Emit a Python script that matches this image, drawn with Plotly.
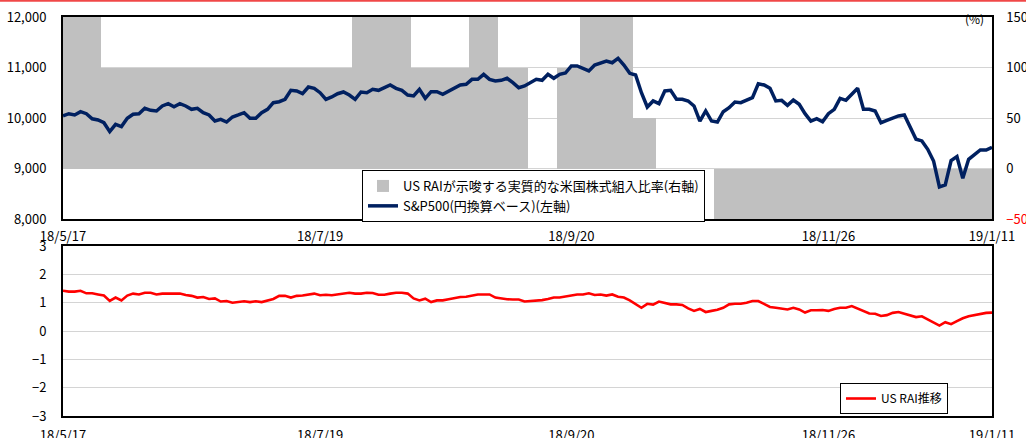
import plotly.graph_objects as go

# ---------------- data ----------------
# S&P500 (JPY basis), one value per business day, 18/5/17 .. 19/1/11
sp500 = [
    10040, 10085, 10060, 10125, 10085, 9985, 9960, 9907, 9730, 9875,
    9830, 9994, 10073, 10085, 10192, 10152, 10139, 10238, 10283, 10224,
    10283, 10238, 10172, 10192, 10105, 10060, 9940, 9974, 9921, 10020,
    10060, 10105, 9994, 9994, 10105, 10172, 10303, 10323, 10370, 10548,
    10535, 10481, 10614, 10588, 10501, 10370, 10416, 10481, 10515, 10455,
    10370, 10515, 10501, 10568, 10548, 10600, 10653, 10588, 10548, 10455,
    10436, 10568, 10390, 10521, 10521, 10469, 10535, 10588, 10653, 10667,
    10766, 10766, 10865, 10766, 10733, 10746, 10786, 10700, 10600, 10634,
    10700, 10766, 10746, 10865, 10786, 10865, 10891, 11030, 11030, 10984,
    10931, 11050, 11095, 11129, 11095, 11182, 11050, 10885, 10851, 10501,
    10218, 10337, 10283, 10535, 10548, 10370, 10370, 10337, 10238, 9940,
    10139, 9940, 9921, 10125, 10204, 10317, 10303, 10350, 10402, 10679,
    10653, 10588, 10337, 10350, 10251, 10356, 10271, 10085, 9940, 9986,
    9927, 10085, 10172, 10390, 10350, 10469, 10588, 10172, 10172, 10139,
    9907, 9954, 9994, 10040, 10060, 9822, 9580, 9546, 9380, 9149,
    8634, 8673, 9155, 9234, 8806, 9182, 9267, 9367, 9367, 9420,
]

# US RAI, same business days
us_rai = [
    1.42, 1.39, 1.39, 1.42, 1.33, 1.33, 1.29, 1.25, 1.06, 1.18,
    1.08, 1.25, 1.32, 1.29, 1.35, 1.35, 1.29, 1.32, 1.32, 1.32,
    1.32, 1.27, 1.24, 1.18, 1.20, 1.13, 1.15, 1.04, 1.06, 1.00,
    1.02, 1.05, 1.02, 1.05, 1.02, 1.08, 1.13, 1.24, 1.24, 1.18,
    1.24, 1.25, 1.28, 1.32, 1.26, 1.28, 1.26, 1.29, 1.32, 1.35,
    1.32, 1.32, 1.35, 1.34, 1.28, 1.28, 1.32, 1.35, 1.35, 1.32,
    1.15, 1.08, 1.14, 1.02, 1.08, 1.08, 1.12, 1.16, 1.20, 1.21,
    1.26, 1.29, 1.29, 1.29, 1.18, 1.14, 1.12, 1.11, 1.11, 1.04,
    1.06, 1.06, 1.09, 1.13, 1.18, 1.18, 1.22, 1.27, 1.29, 1.29,
    1.33, 1.27, 1.29, 1.25, 1.29, 1.21, 1.18, 1.08, 0.94, 0.82,
    0.96, 0.93, 1.04, 0.99, 0.94, 0.94, 0.92, 0.80, 0.71, 0.78,
    0.67, 0.71, 0.75, 0.82, 0.94, 0.96, 0.96, 1.00, 1.06, 1.06,
    0.94, 0.85, 0.82, 0.80, 0.76, 0.82, 0.76, 0.65, 0.73, 0.73,
    0.74, 0.71, 0.78, 0.82, 0.82, 0.88, 0.79, 0.71, 0.62, 0.61,
    0.53, 0.56, 0.64, 0.67, 0.61, 0.54, 0.49, 0.52, 0.40, 0.29,
    0.19, 0.31, 0.24, 0.35, 0.45, 0.52, 0.56, 0.61, 0.64, 0.65,
]

# Effective US equity allocation suggested by US RAI (%), in runs of business days
alloc_first_day = [0, 7, 50, 60, 70, 75, 80, 85, 89, 98, 102, 112]
alloc_last_day = [6, 49, 59, 69, 74, 79, 84, 88, 97, 101, 111, 159]
alloc_value = [150, 100, 150, 100, 150, 100, 0, 100, 150, 50, 0, -50]

tick_days = [0, 44, 87, 131, 159]
tick_labels = ["18/5/17", "18/7/19", "18/9/20", "18/11/26", "19/1/11"]

alloc_ticks = [-50, 0, 50, 100, 150]
alloc_ticktext = ["<span style='color:#ff0000'>\u221250</span>", "0", "50", "100", "150"]

# ---------------- figure ----------------
FONT = "Noto Sans CJK JP"
days = list(range(len(sp500)))
days_rai = list(range(len(us_rai)))

bar_x = [(a + b) / 2 for a, b in zip(alloc_first_day, alloc_last_day)]
bar_w = [b - a + 1 for a, b in zip(alloc_first_day, alloc_last_day)]

fig = go.Figure()
fig.add_trace(go.Bar(
    x=bar_x, y=alloc_value, width=bar_w, base=0,
    marker=dict(color="#c0c0c0", line=dict(width=0)),
    name="US RAIが示唆する実質的な米国株式組入比率(右軸)",
    xaxis="x", yaxis="y", legend="legend", hoverinfo="skip",
))
fig.add_trace(go.Scatter(
    x=days, y=sp500, mode="lines",
    line=dict(color="#002060", width=3.5),
    name="S&P500(円換算ベース)(左軸)",
    xaxis="x", yaxis="y2", legend="legend",
))
fig.add_trace(go.Scatter(
    x=days_rai, y=us_rai, mode="lines",
    line=dict(color="#ff0000", width=2.6),
    name="US RAI推移",
    xaxis="x2", yaxis="y3", legend="legend2",
))

W, H = 1026, 438
L, R, T, B = 63, 34, 17, 22
ph = H - T - B
pw = W - L - R
top_bottom = (H - B - 219) / ph
bot_top = (H - B - 246) / ph

tickfont = dict(family=FONT, size=13, color="black")
xrange_ = [0, len(sp500) - 1]

fig.update_layout(
    width=W, height=H,
    margin=dict(l=L, r=R, t=T, b=B, autoexpand=False),
    paper_bgcolor="white", plot_bgcolor="white",
    barmode="overlay", bargap=0,
    font=dict(family=FONT, size=12, color="black"),
    xaxis=dict(domain=[0, 1], anchor="y", range=xrange_, automargin=False,
               tickvals=tick_days, ticktext=tick_labels, tickfont=tickfont,
               showgrid=False, zeroline=False, showline=True, mirror=True,
               linecolor="black", linewidth=1.5, ticks="", ticklabelstandoff=5),
    yaxis=dict(domain=[top_bottom, 1], anchor="x", side="right", automargin=False,
               range=[-50, 150], tickvals=alloc_ticks, ticktext=alloc_ticktext,
               tickfont=tickfont, showgrid=True, gridcolor="#d4d4d4", gridwidth=1,
               zeroline=False, showline=True, linecolor="black", linewidth=1.5,
               ticks="", ticklabelstandoff=10),
    yaxis2=dict(overlaying="y", anchor="x", side="left", automargin=False,
                range=[8000, 12000], tickvals=[8000, 9000, 10000, 11000, 12000],
                tickformat=",d", tickfont=tickfont, showgrid=False, zeroline=False,
                showline=True, linecolor="black", linewidth=2,
                ticks="", ticklabelstandoff=12),
    xaxis2=dict(domain=[0, 1], anchor="y3", range=xrange_, automargin=False,
                tickvals=tick_days, ticktext=tick_labels, tickfont=tickfont,
                showgrid=False, zeroline=False, showline=True, mirror=True,
                linecolor="black", linewidth=1.5, ticks="", ticklabelstandoff=7),
    yaxis3=dict(domain=[0, bot_top], anchor="x2", range=[-3, 3], dtick=1,
                automargin=False,
                tickfont=tickfont, showgrid=True, gridcolor="#d4d4d4", gridwidth=1,
                zeroline=False, showline=True, mirror=True,
                linecolor="black", linewidth=2, ticks="", ticklabelstandoff=12),
    legend=dict(x=(362 - L) / pw, y=(H - B - 170) / ph,
                xanchor="left", yanchor="top", bgcolor="white",
                bordercolor="black", borderwidth=1, tracegroupgap=0,
                font=dict(family=FONT, size=13, color="black")),
    legend2=dict(x=(840 - L) / pw, y=(H - B - 383) / ph,
                 xanchor="left", yanchor="top", bgcolor="white",
                 bordercolor="black", borderwidth=1,
                 font=dict(family=FONT, size=12, color="black")),
    showlegend=True,
)

fig.add_annotation(text="(%)", xref="paper", yref="paper",
                   x=(986 - L) / pw, y=(H - B - 8) / ph,
                   showarrow=False, font=dict(family=FONT, size=12, color="black"))

fig.add_shape(type="line", xref="paper", yref="paper",
              x0=-L / pw, x1=(W - L) / pw,
              y0=(H - B - 0.8) / ph, y1=(H - B - 0.8) / ph,
              line=dict(color="#f04848", width=2))

fig.write_html(
    "out.html",
    config={"displayModeBar": False},
    post_script="document.body.style.margin='0px';document.body.style.overflow='hidden';",
)
